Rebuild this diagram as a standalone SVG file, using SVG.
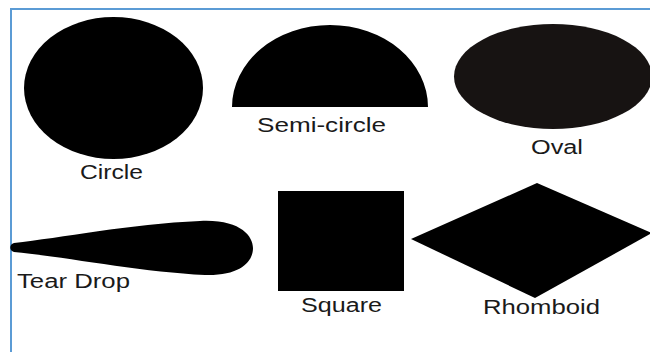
<svg xmlns="http://www.w3.org/2000/svg" width="650" height="352" viewBox="0 0 650 352">
<style>
.shape{fill:#000000}
.label{font-family:"Liberation Sans",Arial,sans-serif;font-size:19.5px;fill:#1a1a1a}
.frame{fill:none;stroke:#5b9bd5;stroke-width:2}
</style>
<rect x="0" y="0" width="650" height="352" fill="#ffffff"/>
<path class="frame" d="M11,352 V9 H650"/>
<g id="circle">
<ellipse class="shape" cx="113.5" cy="88" rx="89.5" ry="71"/>
<text class="label" x="80" y="179" textLength="63" lengthAdjust="spacingAndGlyphs">Circle</text>
</g>
<g id="semi-circle">
<path class="shape" d="M232,107 A98,82 0 0 1 428,107 Z"/>
<text class="label" x="257" y="132" textLength="129" lengthAdjust="spacingAndGlyphs">Semi-circle</text>
</g>
<g id="oval">
<ellipse cx="553" cy="76.5" rx="99" ry="52.5" fill="#171312"/>
<text class="label" x="531" y="154" textLength="52" lengthAdjust="spacingAndGlyphs">Oval</text>
</g>
<g id="tear-drop">
<path class="shape" d="M14,243 C60,238 130,224 200,221 C240,219 253,236 253,248 C253,262 240,276 205,275 C140,272 60,256 14,252 C9,251 9,244 14,243 Z"/>
<text class="label" x="17" y="288" textLength="113" lengthAdjust="spacingAndGlyphs">Tear Drop</text>
</g>
<g id="square">
<rect class="shape" x="278" y="191" width="126" height="100"/>
<text class="label" x="301" y="312" textLength="81" lengthAdjust="spacingAndGlyphs">Square</text>
</g>
<g id="rhomboid">
<polygon class="shape" points="411,239 537,183 652,233 535,298"/>
<text class="label" x="483" y="314" textLength="117" lengthAdjust="spacingAndGlyphs">Rhomboid</text>
</g>
<g id="connectors"/>
</svg>
